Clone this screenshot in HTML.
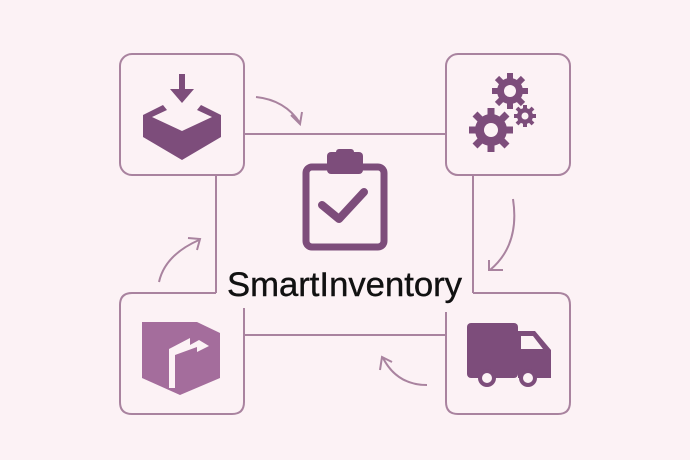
<!DOCTYPE html>
<html><head><meta charset="utf-8"><style>
html,body{margin:0;padding:0;background:#fcf2f5;}
svg{display:block}
</style></head><body>
<svg width="690" height="460" viewBox="0 0 690 460" xmlns="http://www.w3.org/2000/svg">
<rect width="690" height="460" fill="#fcf2f5"/>
<g fill="none" stroke="#a9839f" stroke-width="2">
<line x1="244" y1="134" x2="446" y2="134"/>
<line x1="216" y1="175" x2="216" y2="293"/>
<line x1="473" y1="175" x2="473" y2="293"/>
<line x1="244" y1="335" x2="446" y2="335"/>
<rect x="120" y="54" width="124" height="121" rx="12"/>
<rect x="446" y="54" width="124" height="121" rx="12"/>
<path d="M216 293 H132 Q120 293 120 305 V402 Q120 414 132 414 H232 Q244 414 244 402 V308"/>
<path d="M473 293 H558 Q570 293 570 305 V402 Q570 414 558 414 H458 Q446 414 446 402 V312"/>
<path d="M256 97 Q285 100 300 123"/>
<path d="M291 115 L300 124 L302 112"/>
<path d="M513 199 Q520 245 490 270"/>
<path d="M489 260 L489 270 L503 270"/>
<path d="M427 385 Q397 385 383 358"/>
<path d="M380 370 L382 357 L392 362"/>
<path d="M159 282 Q165 255 199 240"/>
<path d="M188 238 L200 239 L197 250"/>
</g>
<g fill="#7d4d7b">
<rect x="179" y="74" width="6" height="22"/>
<polygon points="170,89 194,89 182,103"/>
<polygon points="143,115 163,105 167,110 152,117 182,131 212,117 197,110 201,105 221,115 221,137 182,160 143,137"/>
</g>
<g fill="#7d4d7b">
<circle cx="510" cy="91" r="13"/>
<g stroke="#7d4d7b" stroke-width="6">
<line x1="510" y1="73" x2="510" y2="109"/><line x1="492" y1="91" x2="528" y2="91"/>
<line x1="497" y1="78" x2="523" y2="104"/><line x1="523" y1="78" x2="497" y2="104"/>
</g>
<circle cx="491" cy="130" r="16"/>
<g stroke="#7d4d7b" stroke-width="7">
<line x1="491" y1="108" x2="491" y2="152"/><line x1="469" y1="130" x2="513" y2="130"/>
<line x1="475" y1="114" x2="507" y2="146"/><line x1="507" y1="114" x2="475" y2="146"/>
</g>
<circle cx="525" cy="116" r="8"/>
<g stroke="#7d4d7b" stroke-width="4">
<line x1="525" y1="105" x2="525" y2="127"/><line x1="514" y1="116" x2="536" y2="116"/>
<line x1="517" y1="108" x2="533" y2="124"/><line x1="533" y1="108" x2="517" y2="124"/>
</g>
</g>
<g fill="#fcf2f5"><circle cx="510" cy="91" r="6"/><circle cx="491" cy="130" r="7"/><circle cx="525" cy="116" r="3.5"/></g>
<rect x="306" y="167" width="78" height="80" rx="6" fill="none" stroke="#7d4d7b" stroke-width="7"/>
<rect x="327" y="152" width="36" height="22" rx="4" fill="#7d4d7b"/>
<rect x="336" y="149" width="18" height="8" rx="3" fill="#7d4d7b"/>
<polyline points="322,205 339,219 364,192" fill="none" stroke="#7d4d7b" stroke-width="8" stroke-linecap="round" stroke-linejoin="round"/>
<text x="227" y="296" textLength="235" lengthAdjust="spacingAndGlyphs" font-family="Liberation Sans, sans-serif" font-size="34" fill="#111" stroke="#111" stroke-width="0.4">SmartInventory</text>
<polygon points="142,322 197,322 220,333 220,378 180,395 142,378" fill="#a46d9c"/>
<path d="M169 388 V349 L190 338 V345 L199 340 L209 346 L197 352 V347 L175 355 V388 Z" fill="#fcf2f5"/>
<g fill="#7d4d7b">
<rect x="467" y="323" width="51" height="55" rx="4"/>
<path d="M518 331 H535 L551 350 V378 H518 Z"/>
<circle cx="487" cy="378" r="9"/><circle cx="528" cy="378" r="9"/>
</g>
<polygon points="521,336 533,336 543,349 521,349" fill="#fcf2f5"/>
<circle cx="487" cy="378" r="5" fill="#fcf2f5"/><circle cx="528" cy="378" r="5" fill="#fcf2f5"/>
</svg>
</body></html>
